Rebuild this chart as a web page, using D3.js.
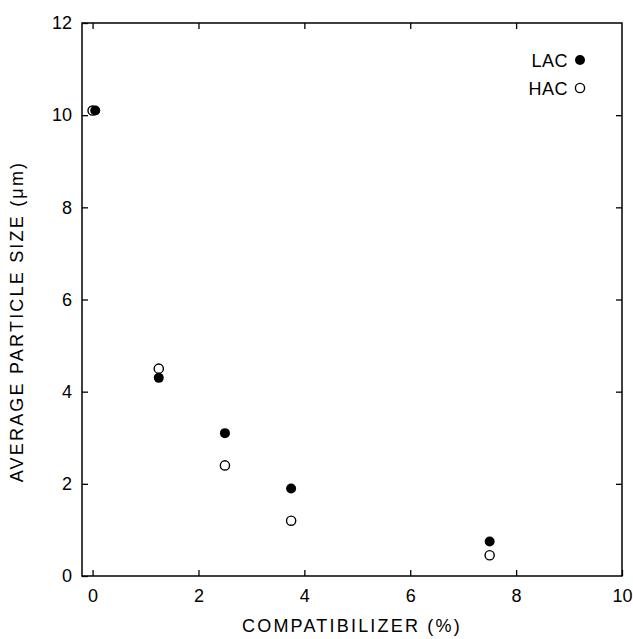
<!DOCTYPE html>
<html>
<head>
<meta charset="utf-8">
<script src="https://cdn.jsdelivr.net/npm/d3@7"></script>
<style>
  body { margin: 0; background: #fff; }
  text { font-family: "Liberation Sans", Arial, sans-serif; fill: #000; }
</style>
</head>
<body>
<div id="chart"></div>
<script>
// compatibilizer content (%) and particle size (um)
const lacX = [0.05, 1.25, 2.5, 3.75, 7.5];
const lacY = [10.1, 4.3, 3.1, 1.9, 0.75];
const hacX = [0.0, 1.25, 2.5, 3.75, 7.5];
const hacY = [10.1, 4.5, 2.4, 1.2, 0.45];
const xTicks = [0, 2, 4, 6, 8, 10];
const yTicks = [0, 2, 4, 6, 8, 10, 12];
const seriesNames = ["LAC", "HAC"];

const W = 633, H = 639;
const margin = { top: 23, right: 11, bottom: 63, left: 82 };
const width = W - margin.left - margin.right;
const height = H - margin.top - margin.bottom;

const svg = d3.select("#chart").append("svg")
  .attr("width", W).attr("height", H)
  .append("g")
  .attr("transform", `translate(${margin.left},${margin.top})`);

const x = d3.scaleLinear().domain([-0.2, 10]).range([0, width]);
const y = d3.scaleLinear().domain([0, 12]).range([height, 0]);

// frame
svg.append("rect")
  .attr("width", width).attr("height", height)
  .attr("fill", "none").attr("stroke", "#000").attr("stroke-width", 1.5);

const tk = 6;
function styleAxis(g) {
  g.select(".domain").remove();
  g.selectAll(".tick line").attr("stroke", "#000").attr("stroke-width", 1.3);
  g.selectAll(".tick text").style("font-size", "18px")
    .style("font-family", "'Liberation Sans', Arial, sans-serif");
}

svg.append("g").attr("transform", `translate(0,${height})`)
  .call(d3.axisBottom(x).tickValues(xTicks).tickSize(-tk).tickPadding(13))
  .call(styleAxis);
svg.append("g")
  .call(d3.axisTop(x).tickValues(xTicks.filter(d => d < 10)).tickSize(-tk).tickFormat(""))
  .call(styleAxis);
svg.append("g")
  .call(d3.axisLeft(y).tickValues(yTicks).tickSize(-tk).tickPadding(10))
  .call(styleAxis);
svg.append("g").attr("transform", `translate(${width},0)`)
  .call(d3.axisRight(y).tickValues(yTicks.filter(d => d > 0 && d < 12)).tickSize(-tk).tickFormat(""))
  .call(styleAxis);

// axis titles
svg.append("text")
  .attr("x", width / 2).attr("y", height + 56)
  .attr("text-anchor", "middle")
  .style("font-size", "18px").style("letter-spacing", "2.2px")
  .text("COMPATIBILIZER (%)");

svg.append("text")
  .attr("transform", `translate(${-59},${height / 2 + 22}) rotate(-90)`)
  .attr("text-anchor", "middle")
  .style("font-size", "18px").style("letter-spacing", "2.2px")
  .text("AVERAGE PARTICLE SIZE (\u03bcm)");

// points: open first, filled on top
const hac = hacX.map((d, i) => ({ x: d, y: hacY[i] }));
const lac = lacX.map((d, i) => ({ x: d, y: lacY[i] }));

svg.selectAll(".hac").data(hac).join("circle")
  .attr("class", "hac")
  .attr("cx", d => x(d.x)).attr("cy", d => y(d.y)).attr("r", 4.6)
  .attr("fill", "#fff").attr("stroke", "#000").attr("stroke-width", 1.4);

svg.selectAll(".lac").data(lac).join("circle")
  .attr("class", "lac")
  .attr("cx", d => x(d.x)).attr("cy", d => y(d.y)).attr("r", 5)
  .attr("fill", "#000");

// legend
const lg = svg.append("g").attr("transform", `translate(${width - 42},${37})`);
seriesNames.forEach((name, i) => {
  const row = lg.append("g").attr("transform", `translate(0,${i * 28})`);
  row.append("text").attr("x", -12).attr("y", 7)
    .attr("text-anchor", "end").style("font-size", "18px").style("letter-spacing", "0.5px")
    .text(name);
  row.append("circle").attr("cx", 0).attr("cy", 0)
    .attr("r", i === 0 ? 5 : 4.6)
    .attr("fill", i === 0 ? "#000" : "#fff")
    .attr("stroke", i === 0 ? "none" : "#000").attr("stroke-width", 1.4);
});
</script>
</body>
</html>
